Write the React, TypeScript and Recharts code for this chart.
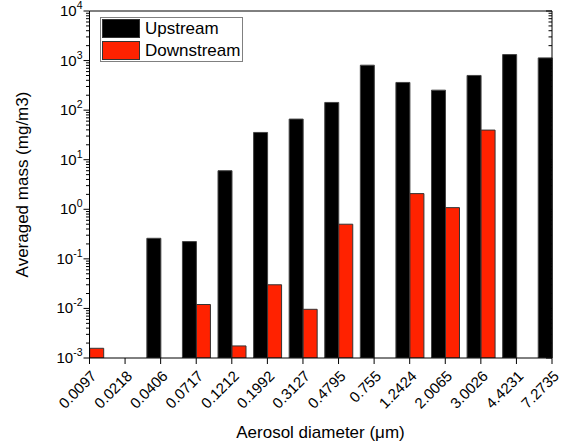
import React from 'react';
import { BarChart, Bar, XAxis, YAxis, Legend } from 'recharts';

const categories = ['0.0097', '0.0218', '0.0406', '0.0717', '0.1212', '0.1992', '0.3127', '0.4795', '0.755', '1.2424', '2.0065', '3.0026', '4.4231', '7.2735'];
const upstream: (number | null)[] = [null, null, 0.26, 0.223, 6.0, 35.5, 66, 143, 807, 362, 253, 501, 1321, 1133];
const downstream: (number | null)[] = [0.00157, null, null, 0.012, 0.00175, 0.03, 0.0096, 0.5, null, 2.07, 1.08, 39.6, null, null];
const seriesNames = ['Upstream', 'Downstream'];
const majorTicks = [0.001, 0.01, 0.1, 1, 10, 100, 1000, 10000];
const minorMultipliers = [2, 3, 4, 5, 6, 7, 8, 9];

const FONT = '"Liberation Sans", Arial, sans-serif';

const data = categories.map((c, i) => ({ name: c, up: upstream[i], down: downstream[i] }));
const yTicks = [
  ...majorTicks,
  ...majorTicks.slice(0, -1).flatMap((m) => minorMultipliers.map((k) => Number((m * k).toPrecision(3)))),
].sort((a, b) => a - b);

const isMajor = (v: number) => {
  const l = Math.log10(v);
  return Math.abs(l - Math.round(l)) < 1e-6;
};

const LeftTick = (props: any) => {
  const { x, y, payload } = props;
  const v = payload.value;
  const major = isMajor(v);
  const e = Math.round(Math.log10(v));
  return (
    <g>
      <line x1={x} x2={x - (major ? 6 : 3.5)} y1={y} y2={y} stroke="#000" strokeWidth={1} />
      {major && (
        <text x={x - 7} y={y} dy={5} textAnchor="end" fontSize={15} fontFamily={FONT} fill="#000">
          10<tspan dy={-7} fontSize={10.5}>{e}</tspan>
        </text>
      )}
    </g>
  );
};

const RightTick = (props: any) => {
  const { x, y, payload } = props;
  const major = isMajor(payload.value);
  return <line x1={x} x2={x - (major ? 6 : 3.5)} y1={y} y2={y} stroke="#000" strokeWidth={1} />;
};

const XTick = (props: any) => {
  const { x, y, payload } = props;
  const ax = x + 8;
  const ay = y + 19;
  return (
    <g>
      <line x1={x} x2={x} y1={y} y2={y + 6} stroke="#000" strokeWidth={1} />
      <text x={ax} y={ay} transform={`rotate(-45, ${ax}, ${ay})`} textAnchor="end" fontSize={15} fontFamily={FONT} fill="#000">
        {payload.value}
      </text>
    </g>
  );
};

const XTitle = () => (
  <text x={320.5} y={438} textAnchor="middle" fontSize={17} fontFamily={FONT} fill="#000">
    Aerosol diameter (μm)
  </text>
);

const YTitle = () => (
  <text x={27.5} y={184.5} transform="rotate(-90, 27.5, 184.5)" textAnchor="middle" fontSize={17} fontFamily={FONT} fill="#000">
    Averaged mass (mg/m3)
  </text>
);

const LegendContent = (props: any) => {
  const items = [...(props.payload || [])].sort(
    (a: any, b: any) => seriesNames.indexOf(a.value) - seriesNames.indexOf(b.value)
  );
  return (
    <div style={{ border: '1px solid #808080', background: '#fff', padding: '1px 2px 1px 1px', fontFamily: FONT, fontSize: 17, color: '#000' }}>
      {items.map((it: any, i: number) => (
        <div key={i} style={{ display: 'flex', alignItems: 'center', height: 19, marginTop: i === 0 ? 0 : 3 }}>
          <span style={{ display: 'inline-block', width: 38, height: 19, boxSizing: 'border-box', background: it.color, border: '1px solid #333', marginRight: 5 }} />
          <span style={{ lineHeight: '19px' }}>{it.value}</span>
        </div>
      ))}
    </div>
  );
};

export default function App() {
  return (
    <div style={{ position: 'absolute', left: 0, top: 0, width: 569, height: 444, background: '#fff' }}>
      <BarChart width={569} height={444} data={data} margin={{ top: 10, right: 16, bottom: 26, left: 29.5 }} barGap={0} barSize={14}>
        <XAxis
          dataKey="name"
          xAxisId={0}
          padding={{ left: -17.8, right: -17.8 }}
          interval={0}
          height={60}
          tick={<XTick />}
          tickLine={false}
          tickSize={0}
          tickMargin={0}
          axisLine={{ stroke: '#000' }}
          label={<XTitle />}
        />
        <XAxis dataKey="name" xAxisId="top" orientation="top" height={1} tick={false} tickLine={false} axisLine={{ stroke: '#000' }} />
        <YAxis
          yAxisId="left"
          scale="log"
          type="number"
          domain={[0.001, 10000]}
          allowDataOverflow
          ticks={yTicks}
          interval={0}
          width={60}
          tick={<LeftTick />}
          tickLine={false}
          tickSize={0}
          tickMargin={0}
          axisLine={{ stroke: '#000' }}
          label={<YTitle />}
        />
        <YAxis
          yAxisId="right"
          orientation="right"
          scale="log"
          type="number"
          domain={[0.001, 10000]}
          allowDataOverflow
          ticks={yTicks}
          interval={0}
          width={1}
          tick={<RightTick />}
          tickLine={false}
          tickSize={0}
          tickMargin={0}
          axisLine={{ stroke: '#000' }}
        />
        <Legend
          layout="horizontal"
          verticalAlign="middle"
          align="center"
          content={<LegendContent />}
          wrapperStyle={{ left: 100, top: 17, width: 'auto', height: 'auto' }}
        />
        <Bar dataKey="up" name="Upstream" yAxisId="left" fill="#000000" stroke="#444" strokeWidth={1} isAnimationActive={false} />
        <Bar dataKey="down" name="Downstream" yAxisId="left" fill="#ff2200" stroke="#333" strokeWidth={1} isAnimationActive={false} />
      </BarChart>
    </div>
  );
}
